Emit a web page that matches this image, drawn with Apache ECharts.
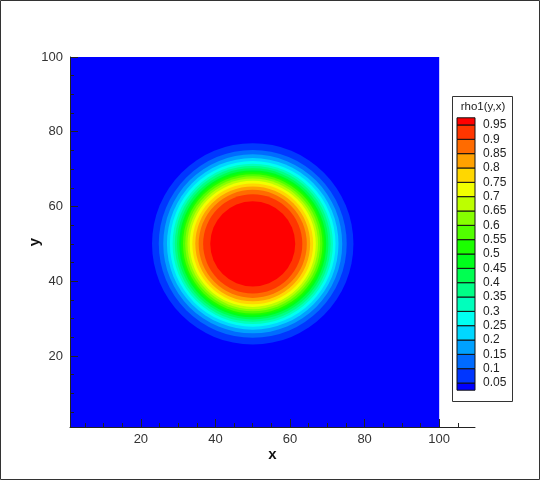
<!DOCTYPE html>
<html><head><meta charset="utf-8">
<script src="https://cdn.jsdelivr.net/npm/echarts@6/dist/echarts.min.js"></script>
<style>html,body{margin:0;padding:0;background:#fff}#c{width:540px;height:480px}</style>
</head><body><div id="c"></div>
<script>
// ---- data ----
const levels = [0.05,0.1,0.15,0.2,0.25,0.3,0.35,0.4,0.45,0.5,0.55,0.6,0.65,0.7,0.75,0.8,0.85,0.9,0.95];
const levelLabels = ['0.05','0.1','0.15','0.2','0.25','0.3','0.35','0.4','0.45','0.5','0.55','0.6','0.65','0.7','0.75','0.8','0.85','0.9','0.95'];
// radius (in x/y units) at which rho1 crosses each level
const contourRadii = [27.0,25.2,24.0,23.0,22.2,21.5,20.9,20.3,19.7,19.2,18.7,18.1,17.5,16.9,16.2,15.4,14.5,13.3,11.4];
const center = [50, 50];
const domainX = [1, 100];
const domainY = [1, 100];
const xMajorTicks = [20,40,60,80,100];
const yMajorTicks = [20,40,60,80,100];
const xMinorTicks = [5,10,15,25,30,35,45,50,55,65,70,75,85,90,95,105];
const yMinorTicks = [5,10,15,25,30,35,45,50,55,65,70,75,85,90,95];
const bandColors = ['#0000FF','#0036FF','#006BFF','#00A1FF','#00D7FF','#00FFF1','#00FFBC','#00FF86','#00FF51','#00FF1B',
                    '#1BFF00','#51FF00','#86FF00','#BCFF00','#F1FF00','#FFD700','#FFA100','#FF6B00','#FF3600','#FF0000'];
const legendTitle = 'rho1(y,x)';

// ---- build series data ----
const domainData = [[domainX[0], domainY[1], domainX[1], domainY[0]]];
const contourData = levels.map((lv, i) => [center[0], center[1], contourRadii[i], i + 1]);
const legendData = bandColors.map((c, i) => [
  i === 0 ? levels[0] - 0.025 : levels[i - 1],
  i === bandColors.length - 1 ? levels[levels.length - 1] + 0.025 : levels[i],
  i
]);

const FONT = '"Liberation Sans", Arial, sans-serif';
const chart = echarts.init(document.getElementById('c'), null, {renderer: 'canvas'});
const axisColor = '#222';
const baseAxis = {type: 'value', min: 1, splitLine: {show: false}, z: 10};

chart.setOption({
  animation: false,
  grid: [
    {left: 70, top: 57, width: 405, height: 370},
    {left: 457, top: 117.8, width: 18, height: 272.4}
  ],
  xAxis: [
    Object.assign({}, baseAxis, {gridIndex: 0, max: 109.6, position: 'bottom',
      axisLine: {show: true, onZero: false, lineStyle: {color: axisColor, width: 1}},
      axisTick: {show: true, inside: true, length: 8, customValues: xMajorTicks, lineStyle: {color: axisColor}},
      axisLabel: {show: true, customValues: xMajorTicks, margin: 6, color: '#333', fontSize: 13, fontFamily: FONT},
      name: 'x', nameLocation: 'middle', nameGap: 20, nameMoveOverlap: false,
      nameTextStyle: {fontSize: 15, fontWeight: 'bold', color: '#111', fontFamily: FONT}}),
    Object.assign({}, baseAxis, {gridIndex: 0, max: 109.6, position: 'bottom',
      axisLine: {show: false, onZero: false},
      axisTick: {show: true, inside: true, length: 4, customValues: xMinorTicks, lineStyle: {color: axisColor}},
      axisLabel: {show: false}}),
    {type: 'value', gridIndex: 1, min: 0, max: 1, show: false}
  ],
  yAxis: [
    Object.assign({}, baseAxis, {gridIndex: 0, max: 100, position: 'left',
      axisLine: {show: true, onZero: false, lineStyle: {color: axisColor, width: 1}},
      axisTick: {show: true, inside: true, length: 8, customValues: yMajorTicks, lineStyle: {color: axisColor}},
      axisLabel: {show: true, customValues: yMajorTicks, margin: 7, color: '#333', fontSize: 13, fontFamily: FONT},
      name: 'y', nameLocation: 'middle', nameGap: 28, nameMoveOverlap: false,
      nameTextStyle: {fontSize: 15, fontWeight: 'bold', color: '#111', fontFamily: FONT}}),
    Object.assign({}, baseAxis, {gridIndex: 0, max: 100, position: 'left',
      axisLine: {show: false, onZero: false},
      axisTick: {show: true, inside: true, length: 4, customValues: yMinorTicks, lineStyle: {color: axisColor}},
      axisLabel: {show: false}}),
    {type: 'value', gridIndex: 1, min: levels[0] - 0.025, max: levels[levels.length - 1] + 0.025, position: 'right',
      splitLine: {show: false}, axisLine: {show: false}, axisTick: {show: false},
      axisLabel: {show: true, customValues: levels, margin: 8, color: '#222', fontSize: 12, fontFamily: FONT,
        padding: [4, 0, 0, 0],
        formatter: v => { const k = levels.findIndex(l => Math.abs(l - v) < 1e-6); return k >= 0 ? levelLabels[k] : ''; }}}
  ],
  graphic: [
    {type: 'rect', shape: {x: 0.5, y: 0.5, width: 539, height: 479}, style: {fill: 'none', stroke: '#333', lineWidth: 1}, silent: true},
    {type: 'rect', shape: {x: 452.5, y: 96.5, width: 60, height: 305}, style: {fill: 'none', stroke: '#333', lineWidth: 1}, silent: true},
    {type: 'text', x: 483, y: 107, style: {text: legendTitle, font: '11.5px ' + FONT, fill: '#222', align: 'center', verticalAlign: 'middle'}, silent: true}
  ],
  series: [
    {type: 'custom', xAxisIndex: 0, yAxisIndex: 0, data: domainData, silent: true,
      renderItem: (params, api) => {
        const p0 = api.coord([api.value(0), api.value(1)]);
        const p1 = api.coord([api.value(2), api.value(3)]);
        return {type: 'rect', shape: {x: p0[0], y: p0[1], width: p1[0] - p0[0], height: p1[1] - p0[1]}, style: {fill: bandColors[0]}};
      }},
    {type: 'custom', xAxisIndex: 0, yAxisIndex: 0, data: contourData, silent: true,
      renderItem: (params, api) => {
        const c = api.coord([api.value(0), api.value(1)]);
        const r = api.size([api.value(2), 0])[0];
        return {type: 'circle', shape: {cx: c[0], cy: c[1], r: r}, style: {fill: bandColors[api.value(3)]}};
      }},
    {type: 'custom', xAxisIndex: 2, yAxisIndex: 2, data: legendData, silent: true,
      renderItem: (params, api) => {
        const p0 = api.coord([0, api.value(1)]);
        const p1 = api.coord([1, api.value(0)]);
        return {type: 'rect', shape: {x: p0[0], y: p0[1], width: p1[0] - p0[0], height: p1[1] - p0[1]},
          style: {fill: bandColors[api.value(2)], stroke: '#111', lineWidth: 1}};
      }}
  ]
});
</script>
</body></html>
